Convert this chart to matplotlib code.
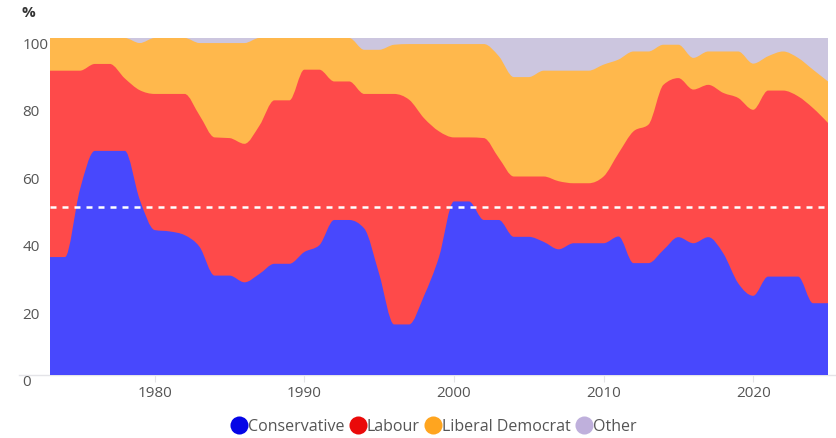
import numpy as np
import matplotlib
matplotlib.use("Agg")
import matplotlib.pyplot as plt
from matplotlib.path import Path
from matplotlib.patches import PathPatch
from matplotlib.lines import Line2D

plt.rcParams['font.family'] = ['Open Sans', 'DejaVu Sans']

years = list(range(1973, 2026))

# seat share, %
conservative = [35, 35, 55, 66.5, 66.5, 66.5, 52, 43, 42.6, 41.5,
                38, 29.5, 29.5, 27.5, 30, 33, 33, 36.5, 38.5, 46,
                46, 43.5, 30, 15, 15, 23.5, 35, 51.5, 51.5, 46,
                46, 41, 41, 39.5, 37.3, 39.1, 39.1, 39.1, 41.1, 33.2,
                33.2, 37.1, 40.9, 39.1, 40.9, 36.1, 27.2, 23.5, 29.2, 29.2,
                29.2, 21.3, 21.3]
labour = [55.3, 55.3, 35.3, 25.8, 25.8, 21.5, 32.5, 40.4, 40.8, 41.9,
          39, 41, 40.8, 41.1, 44, 48.5, 48.5, 54.1, 52.1, 41.1,
          41.1, 39.9, 53.4, 68.4, 66.7, 52.7, 37.3, 19, 19, 24.3,
          18.4, 17.9, 17.9, 19.4, 20.2, 17.8, 17.8, 19.8, 24.7, 39.1,
          41.1, 49, 47.2, 45.6, 45.2, 47.6, 55, 55.2, 55.2, 55.2,
          53.5, 57.9, 53.5]
lib_dem = [9.7, 9.7, 9.7, 7.7, 7.7, 12, 14, 16.6, 16.6, 16.6,
           21.5, 28, 28.2, 29.9, 26, 18.5, 18.5, 9.4, 9.4, 12.9,
           12.9, 13.1, 13.1, 14.6, 16.5, 22, 25.9, 27.7, 27.7, 27.9,
           30.2, 29.5, 29.5, 31.4, 32.8, 33.4, 33.4, 33.2, 27.8, 23.7,
           21.7, 11.9, 9.9, 9.4, 9.9, 12.3, 13.8, 13.7, 10.2, 11.6,
           11.4, 11.4, 12.3]
other = [0, 0, 0, 0, 0, 0, 1.5, 0, 0, 0,
         1.5, 1.5, 1.5, 1.5, 0, 0, 0, 0, 0, 0,
         0, 3.5, 3.5, 2, 1.8, 1.8, 1.8, 1.8, 1.8, 1.8,
         5.4, 11.6, 11.6, 9.7, 9.7, 9.7, 9.7, 7.9, 6.4, 4,
         4, 2, 2, 5.9, 4, 4, 4, 7.6, 5.4, 4,
         5.9, 9.4, 12.9]

parties = ['Conservative', 'Labour', 'Liberal Democrat', 'Other']
fill_colors = ['#4848fd', '#fe4a4a', '#ffb84c', '#ccc6df']
legend_colors = ['#0505e6', '#ea0a0a', '#ffa51f', '#bfb0dc']
x_ticks = [1980, 1990, 2000, 2010, 2020]
y_ticks = [0, 20, 40, 60, 80, 100]


def monotone_tangents(x, y):
    # same rule as d3's curveMonotoneX
    n = len(x)
    h = np.diff(x)
    s = np.diff(y) / h
    m = np.zeros(n)
    for i in range(1, n - 1):
        p = (s[i - 1] * h[i] + s[i] * h[i - 1]) / (h[i - 1] + h[i])
        m[i] = (np.sign(s[i - 1]) + np.sign(s[i])) * min(abs(s[i - 1]), abs(s[i]), 0.5 * abs(p))
    m[0] = (3 * s[0] - m[1]) / 2 if n > 2 else s[0]
    m[-1] = (3 * s[-1] - m[-2]) / 2 if n > 2 else s[-1]
    return m


def smooth_area(ax, x, y, color):
    x = np.asarray(x, float)
    y = np.asarray(y, float)
    m = monotone_tangents(x, y)
    verts = [(x[0], 0), (x[0], y[0])]
    codes = [Path.MOVETO, Path.LINETO]
    for i in range(len(x) - 1):
        d = (x[i + 1] - x[i]) / 3
        verts += [(x[i] + d, y[i] + m[i] * d), (x[i + 1] - d, y[i + 1] - m[i + 1] * d), (x[i + 1], y[i + 1])]
        codes += [Path.CURVE4] * 3
    verts += [(x[-1], 0), (x[0], 0)]
    codes += [Path.LINETO, Path.CLOSEPOLY]
    ax.add_patch(PathPatch(Path(verts, codes), facecolor=color, edgecolor='none', zorder=2))


fig = plt.figure(figsize=(8.36, 4.38), dpi=100)
ax = fig.add_axes([50 / 836, 1 - 375 / 438, 778 / 836, 337 / 438])

shares = np.array([conservative, labour, lib_dem, other])
tops = np.cumsum(shares, axis=0)
for k in range(3, -1, -1):
    smooth_area(ax, years, tops[k], fill_colors[k])

ax.axhline(50, color='white', lw=1.8, ls=(0, (2.4, 2.4)), zorder=3)
ax.axhline(0, xmin=-0.04, xmax=1.02, color='#e4e4e8', lw=1, clip_on=False, zorder=1)

ax.set_xlim(years[0], years[-1])
ax.set_ylim(0, 100)
for sp in ax.spines.values():
    sp.set_visible(False)

ax.set_xticks(x_ticks)
ax.set_xticklabels([str(t) for t in x_ticks])
ax.tick_params(axis='x', length=5, color='#e4e4e8', labelcolor='#555555', labelsize=11, pad=3)

ax.set_yticks(y_ticks)
ax.set_yticklabels([str(t) for t in y_ticks])
ax.tick_params(axis='y', length=0, labelcolor='#555555', labelsize=11, pad=20)
for lab in ax.get_yticklabels():
    lab.set_horizontalalignment('left')
    lab.set_verticalalignment('top')

fig.text(21 / 836, 1 - 13 / 438, '%', fontsize=11, fontweight='bold', color='#333333', va='center')

handles = [Line2D([], [], ls='none', marker='o', markersize=13, markerfacecolor=c, markeredgecolor='none')
           for c in legend_colors]
fig.legend(handles, parties, loc='center', bbox_to_anchor=(434 / 836, 1 - 427 / 438), ncol=4, frameon=False,
           handletextpad=0.05, columnspacing=0.35, handlelength=1.0, fontsize=11.5, labelcolor='#555555')

fig.savefig('out.png', dpi=100)
